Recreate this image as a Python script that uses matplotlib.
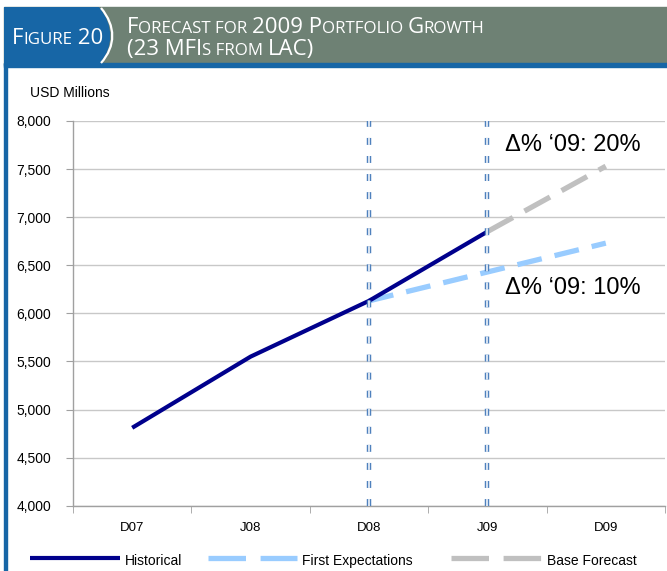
import matplotlib
matplotlib.use("Agg")
import matplotlib.pyplot as plt
from matplotlib.patches import Rectangle, PathPatch
from matplotlib.path import Path
from matplotlib.lines import Line2D

# periods on the x axis
periods = ["D07", "J08", "D08", "J09", "D09"]

# USD millions
historical = [4810, 5550, 6130, 6850]          # D07 .. J09
first_expectations = [6130, 6430, 6730]        # D08 .. D09
base_forecast = [6850, 7530]                   # J09 .. D09

growth_labels = ["\u0394% \u201809: 20%", "\u0394% \u201809: 10%"]

W, H = 667, 571
fig = plt.figure(figsize=(W / 100, H / 100), dpi=100)
fig.patch.set_facecolor("white")

BLUE = "#1766a6"
GREEN = "#6e8174"


def fx(px):
    return px / W


def fy(py):
    return 1 - py / H


# header band
fig.patches.append(Rectangle((fx(4), fy(65)), 1, fy(7) - fy(65),
                             transform=fig.transFigure, color=GREEN, zorder=0))
verts = [(fx(4), fy(7)), (fx(99), fy(7)),
         (fx(114), fy(25)), (fx(114), fy(47)), (fx(99), fy(65)),
         (fx(4), fy(65)), (fx(4), fy(7))]
codes = [Path.MOVETO, Path.LINETO, Path.CURVE4, Path.CURVE4, Path.CURVE4,
         Path.LINETO, Path.CLOSEPOLY]
fig.patches.append(PathPatch(Path(verts, codes), transform=fig.transFigure,
                             facecolor=BLUE, edgecolor="none", zorder=1))
arc = Path([(fx(101), fy(8)), (fx(116), fy(26)), (fx(116), fy(46)), (fx(101), fy(63))],
           [Path.MOVETO, Path.CURVE4, Path.CURVE4, Path.CURVE4])
fig.patches.append(PathPatch(arc, transform=fig.transFigure, facecolor="none",
                             edgecolor="white", lw=1.6, zorder=2))
# blue rule under the header and down the left side
fig.patches.append(Rectangle((fx(4), fy(67)), 1, fy(63) - fy(67),
                             transform=fig.transFigure, color=BLUE, zorder=1))
fig.patches.append(Rectangle((fx(4), 0), fx(3), fy(63),
                             transform=fig.transFigure, color=BLUE, zorder=1))

renderer = fig.canvas.get_renderer()
HFONT = "Open Sans"


def small_caps(x, y, pieces, size, ratio=0.76):
    # pieces: (text, is_big) drawn one after the other
    for s, big in pieces:
        fs = size if big else size * ratio
        t = fig.text(x, y, s.replace(" ", "\u00a0"), fontsize=fs, color="white",
                     family=HFONT, va="baseline", ha="left")
        x += t.get_window_extent(renderer).width / W
    return x


small_caps(fx(12), fy(44), [("F", True), ("IGURE", False), ("\u00a020", True)], 16)
small_caps(fx(127), fy(33), [("F", True), ("ORECAST FOR ", False), ("2009 P", True),
                             ("ORTFOLIO ", False), ("G", True), ("ROWTH", False)], 16)
small_caps(fx(127), fy(55), [("(23 MFI", True), ("S FROM ", False), ("LAC)", True)], 16)

plt.rcParams["font.family"] = ["Liberation Sans", "DejaVu Sans"]
plt.rcParams["lines.scale_dashes"] = False

ax = fig.add_axes([fx(73), fy(505.7), fx(665) - fx(73), fy(121) - fy(505.7)])
x_all = list(range(len(periods)))

ax.plot(x_all[2:], first_expectations, color="#99ccff", lw=3.8,
        dashes=(18, 9.5), solid_capstyle="butt", dash_capstyle="butt", zorder=3)
ax.plot(x_all[3:], base_forecast, color="#c0c0c0", lw=3.8,
        dashes=(21, 9.5), dash_capstyle="butt", zorder=3)
ax.plot(x_all[:4], historical, color="#00008c", lw=3.0,
        solid_capstyle="butt", zorder=4)

# markers for D08 and J09
for xv in (2, 3):
    ax.plot([xv, xv], [4000, 8000], color="#4f81bd", lw=3.2,
            dashes=(5, 8), dash_capstyle="butt", zorder=5)
    ax.plot([xv, xv], [4000, 8000], color="#e4ecf6", lw=1.3,
            dashes=(5, 8), dash_capstyle="butt", zorder=6)

ax.set_xlim(-0.5, 4.5)
ax.set_ylim(4000, 8000)
ax.set_yticks(range(4000, 8001, 500))
ax.set_yticklabels([f"{v:,}" for v in range(4000, 8001, 500)], fontsize=10)
ax.set_xticks(x_all)
ax.set_xticklabels(periods, fontsize=9.5)
ax.set_xticks([i - 0.5 for i in range(len(periods) + 1)], minor=True)
ax.tick_params(axis="x", which="major", length=0, pad=12)
ax.tick_params(axis="x", which="minor", length=5, color="#a0a0a0", direction="out")
ax.tick_params(axis="y", length=5, color="#a0a0a0", pad=10.5)
ax.grid(axis="y", color="#c8c8c8", lw=1.0)
ax.set_axisbelow(True)
for side in ("top", "right"):
    ax.spines[side].set_visible(False)
for side in ("left", "bottom"):
    ax.spines[side].set_color("#a0a0a0")
    ax.spines[side].set_linewidth(1.0)

fig.text(fx(30), fy(93), "USD Millions", fontsize=10, va="center")

ax.text(3.15, 7750, growth_labels[0], fontsize=17, va="center", ha="left")
ax.text(3.15, 6260, growth_labels[1], fontsize=17, va="center", ha="left")

# legend along the bottom
ly = fy(558)
fig.lines.append(Line2D([fx(30), fx(120)], [ly, ly], transform=fig.transFigure,
                        color="#00008c", lw=3.0, solid_capstyle="butt"))
fig.lines.append(Line2D([fx(208), fx(297)], [ly, ly], transform=fig.transFigure,
                        color="#99ccff", lw=3.8, dashes=(27, 10.5), dash_capstyle="butt"))
fig.lines.append(Line2D([fx(451), fx(541)], [ly, ly], transform=fig.transFigure,
                        color="#c0c0c0", lw=3.8, dashes=(27, 10.5), dash_capstyle="butt"))
fig.text(fx(125), fy(561), "Historical", fontsize=10, va="center")
fig.text(fx(302), fy(561), "First Expectations", fontsize=10, va="center")
fig.text(fx(547), fy(561), "Base Forecast", fontsize=10, va="center")

fig.savefig("out.png", dpi=100)
